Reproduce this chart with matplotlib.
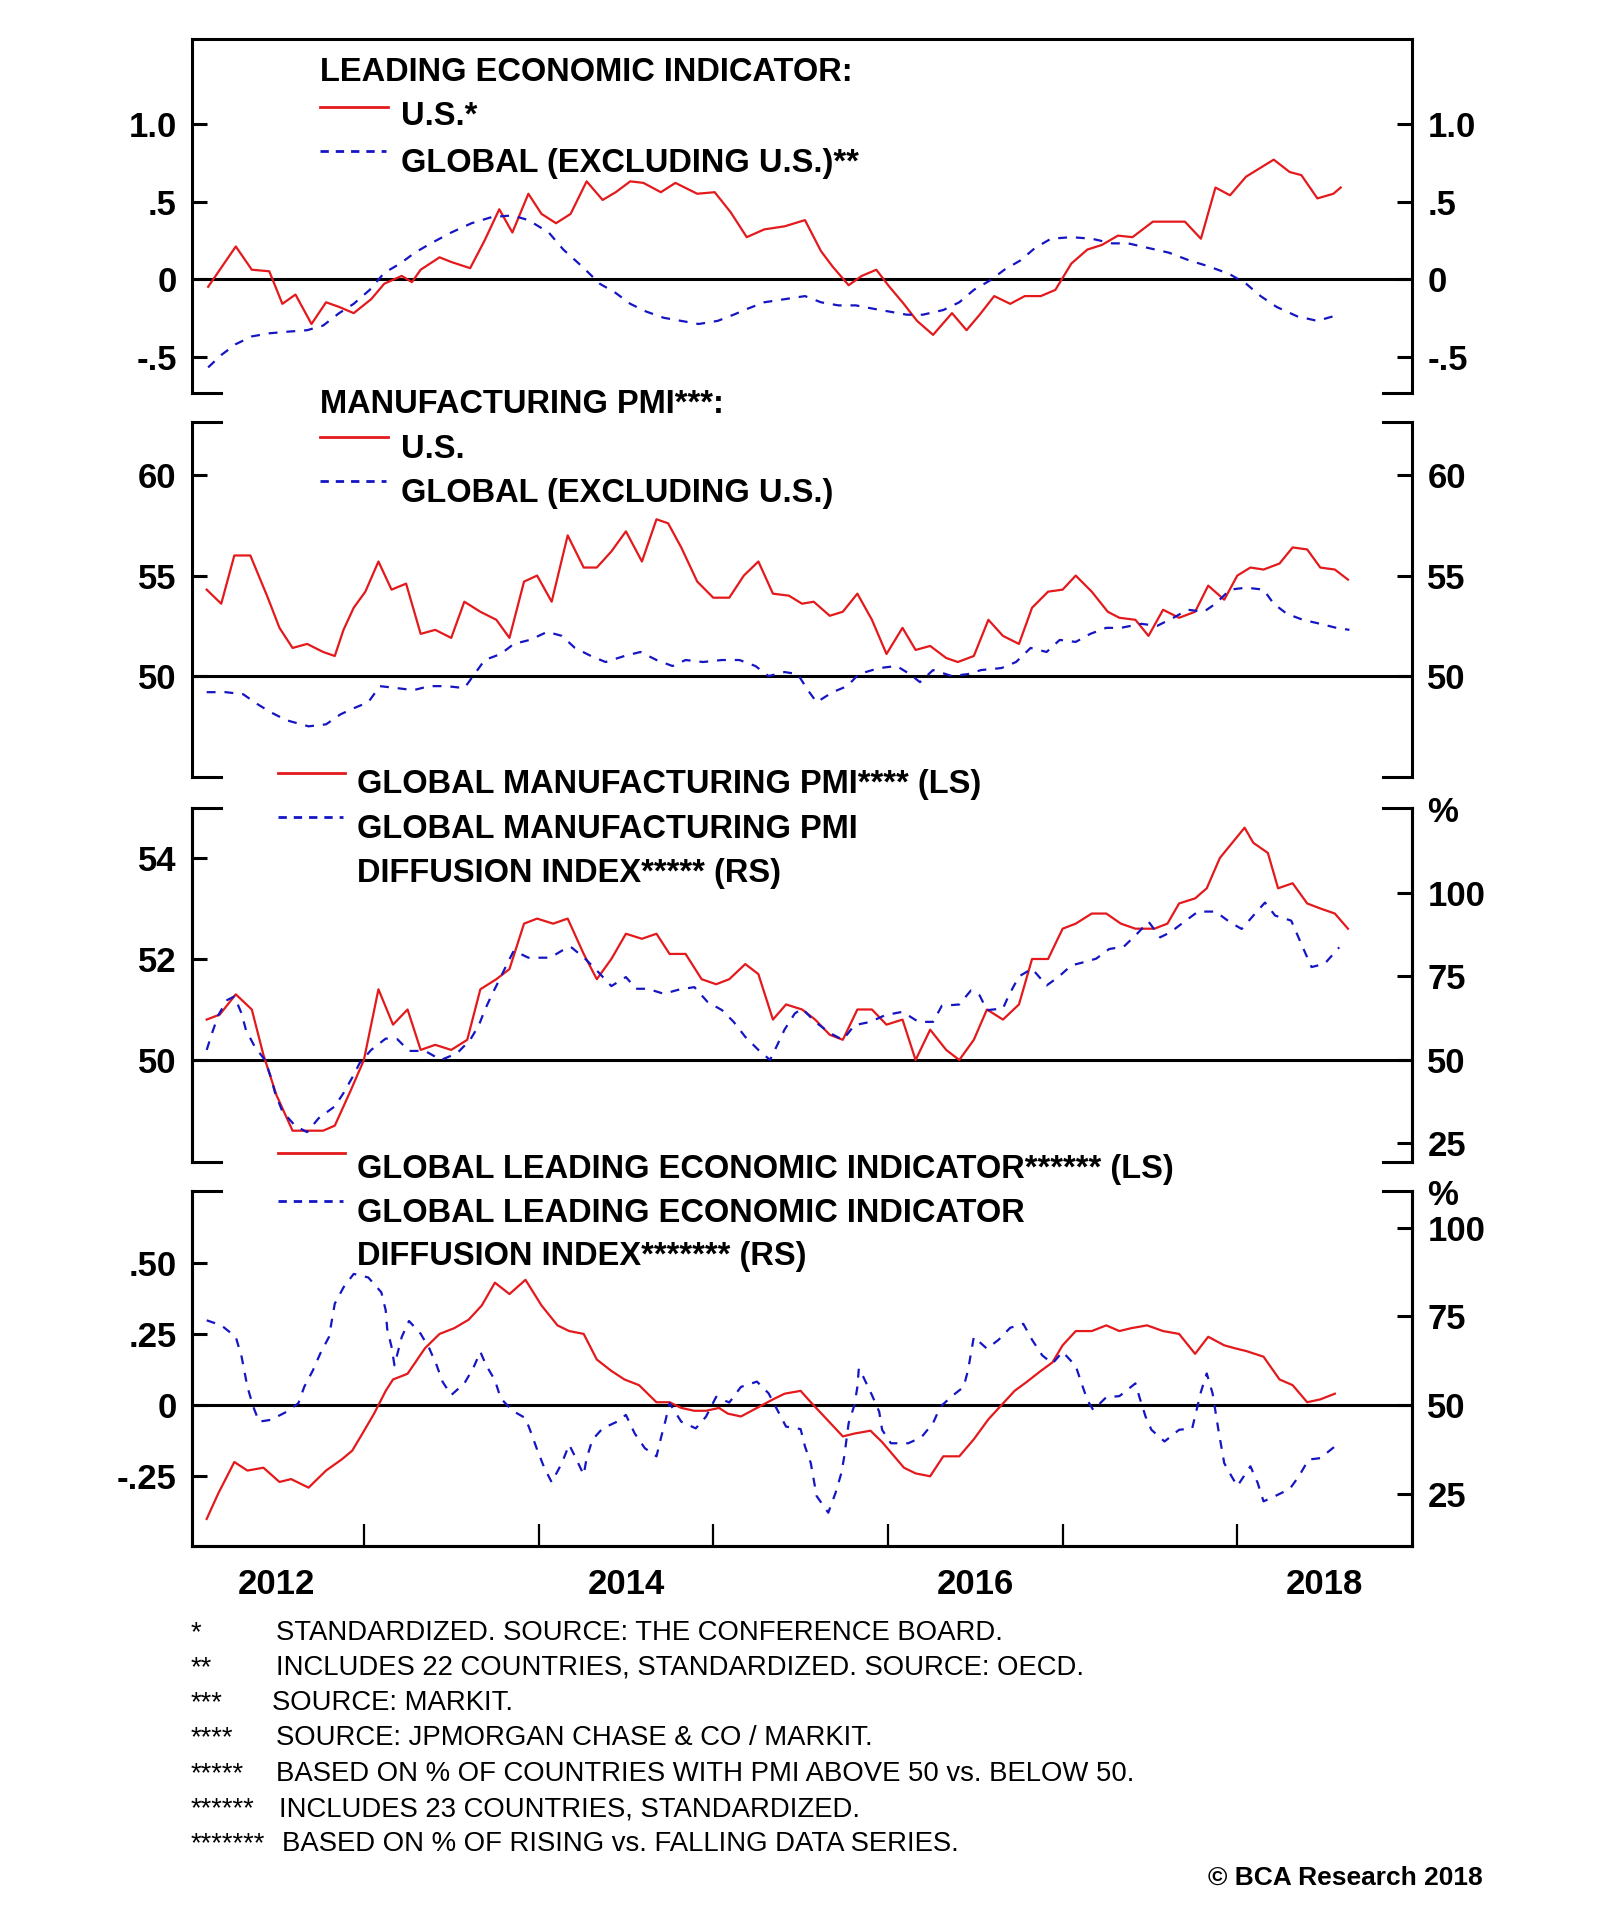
import numpy as np
import matplotlib
matplotlib.use("Agg")
import matplotlib.pyplot as plt
from matplotlib.lines import Line2D

plt.rcParams['font.family'] = ['Liberation Sans', 'DejaVu Sans']
plt.rcParams['font.weight'] = 'bold'

RED = '#e3191c'
BLUE = '#1515c4'
DASH = (0, (4, 4))

# (months after Jan 2012, value)
us_lei = [(1.3, -0.05), (3.2, 0.21), (4.3, 0.06), (5.5, 0.05), (6.4, -0.16), (7.3, -0.10), (8.4, -0.29),
          (9.4, -0.15), (10.3, -0.18), (11.3, -0.22), (12.5, -0.13), (13.4, -0.03), (14.6, 0.02), (15.3, -0.02),
          (15.9, 0.06), (17.2, 0.14), (18.0, 0.11), (19.3, 0.07), (20.3, 0.25), (21.3, 0.45), (22.2, 0.30),
          (23.3, 0.55), (24.2, 0.42), (25.2, 0.36), (26.2, 0.42), (27.3, 0.63), (28.4, 0.51), (29.3, 0.56),
          (30.3, 0.63), (31.2, 0.62), (32.4, 0.56), (33.4, 0.62), (34.9, 0.55), (36.1, 0.56), (37.2, 0.43),
          (38.3, 0.27), (39.5, 0.32), (40.9, 0.34), (42.3, 0.38), (43.4, 0.18), (44.2, 0.08), (45.3, -0.04),
          (46.2, 0.02), (47.2, 0.06), (48.1, -0.05), (49.0, -0.15), (50.0, -0.27), (51.1, -0.36), (52.4, -0.22),
          (53.4, -0.33), (54.3, -0.23), (55.3, -0.11), (56.4, -0.16), (57.4, -0.11), (58.5, -0.11), (59.5, -0.07),
          (60.6, 0.10), (61.7, 0.19), (62.7, 0.22), (63.8, 0.28), (64.8, 0.27), (66.2, 0.37), (68.4, 0.37),
          (69.5, 0.26), (70.5, 0.59), (71.5, 0.54), (72.6, 0.66), (74.5, 0.77), (75.6, 0.69), (76.4, 0.67),
          (77.5, 0.52), (78.6, 0.55), (79.1, 0.59)]

global_lei = [(1.3, -0.57), (2.2, -0.49), (3.2, -0.42), (4.3, -0.37), (5.5, -0.35), (6.7, -0.34), (8.1, -0.33),
              (9.2, -0.30), (10.3, -0.22), (11.3, -0.16), (12.4, -0.07), (13.4, 0.04), (14.5, 0.10), (15.5, 0.17),
              (16.6, 0.23), (18.0, 0.30), (19.4, 0.36), (20.8, 0.40), (22.2, 0.41), (23.3, 0.38), (24.7, 0.30),
              (25.7, 0.19), (27.0, 0.08), (28.2, -0.03), (29.3, -0.09), (30.3, -0.16), (31.4, -0.21), (32.6, -0.25),
              (33.8, -0.27), (35.0, -0.29), (36.3, -0.27), (37.4, -0.23), (38.4, -0.19), (39.5, -0.15), (40.9, -0.13),
              (42.3, -0.11), (43.4, -0.15), (44.6, -0.17), (45.8, -0.17), (46.9, -0.19), (48.1, -0.21), (49.3, -0.23),
              (50.4, -0.23), (51.8, -0.20), (52.9, -0.15), (53.9, -0.07), (55.0, -0.01), (56.0, 0.06), (57.1, 0.12),
              (58.1, 0.20), (59.2, 0.26), (60.6, 0.27), (62.0, 0.26), (63.4, 0.23), (64.5, 0.23), (65.9, 0.20),
              (67.3, 0.17), (68.7, 0.12), (70.1, 0.08), (71.5, 0.03), (72.6, -0.03), (73.6, -0.11), (74.7, -0.18),
              (76.1, -0.24), (77.5, -0.27), (78.6, -0.24)]

us_pmi = [(1.2, 54.3), (2.2, 53.6), (3.1, 56.0), (4.2, 56.0), (5.4, 53.9), (6.2, 52.4), (7.1, 51.4), (8.1, 51.6),
          (9.2, 51.2), (10.0, 51.0), (10.6, 52.3), (11.3, 53.4), (12.1, 54.2), (13.0, 55.7), (13.9, 54.3),
          (14.9, 54.6), (15.9, 52.1), (16.9, 52.3), (18.0, 51.9), (18.9, 53.7), (20.0, 53.2), (21.1, 52.8),
          (22.0, 51.9), (23.0, 54.7), (23.9, 55.0), (24.9, 53.7), (26.0, 57.0), (27.1, 55.4), (28.0, 55.4),
          (29.0, 56.2), (30.0, 57.2), (31.1, 55.7), (32.1, 57.8), (32.9, 57.6), (33.8, 56.4), (34.9, 54.7),
          (36.0, 53.9), (37.1, 53.9), (38.1, 55.0), (39.1, 55.7), (40.1, 54.1), (41.2, 54.0), (42.1, 53.6),
          (42.9, 53.7), (44.0, 53.0), (44.9, 53.2), (45.9, 54.1), (46.9, 52.8), (47.9, 51.1), (49.0, 52.4),
          (49.9, 51.3), (50.9, 51.5), (52.0, 50.9), (52.8, 50.7), (53.9, 51.0), (54.9, 52.8), (55.9, 52.0),
          (57.0, 51.6), (57.9, 53.4), (59.0, 54.2), (60.0, 54.3), (60.9, 55.0), (62.0, 54.2), (63.1, 53.2),
          (63.9, 52.9), (65.0, 52.8), (65.9, 52.0), (66.9, 53.3), (68.0, 52.9), (69.1, 53.2), (70.0, 54.5),
          (71.1, 53.8), (72.0, 55.0), (72.9, 55.4), (73.8, 55.3), (74.9, 55.6), (75.8, 56.4), (76.8, 56.3),
          (77.7, 55.4), (78.7, 55.3), (79.6, 54.8)]

global_pmi_exus = [(1.2, 49.2), (2.5, 49.2), (3.7, 49.1), (4.7, 48.6), (5.6, 48.2), (6.7, 47.8), (8.2, 47.5),
                   (9.4, 47.6), (10.4, 48.1), (11.3, 48.4), (12.3, 48.7), (13.1, 49.5), (14.3, 49.4), (15.4, 49.3),
                   (16.5, 49.5), (17.7, 49.5), (18.9, 49.4), (19.6, 50.1), (20.3, 50.8), (21.4, 51.1), (22.3, 51.6),
                   (23.4, 51.8), (24.6, 52.2), (25.6, 52.0), (26.5, 51.4), (27.6, 51.0), (28.6, 50.7), (29.9, 51.0),
                   (31.0, 51.2), (32.1, 50.8), (33.2, 50.5), (34.1, 50.8), (35.3, 50.7), (36.6, 50.8), (37.8, 50.8),
                   (38.9, 50.5), (39.8, 50.0), (40.9, 50.2), (41.8, 50.1), (42.5, 49.3), (43.1, 48.7), (44.2, 49.2),
                   (45.2, 49.5), (46.0, 50.1), (47.4, 50.4), (48.6, 50.5), (49.5, 50.1), (50.2, 49.7), (51.1, 50.3),
                   (52.4, 50.0), (53.5, 50.1), (54.4, 50.3), (55.8, 50.4), (56.8, 50.7), (57.8, 51.4), (58.9, 51.2),
                   (59.8, 51.8), (60.9, 51.7), (61.9, 52.1), (63.0, 52.4), (64.0, 52.4), (65.4, 52.6), (66.5, 52.5),
                   (67.6, 52.9), (68.6, 53.3), (69.7, 53.2), (70.5, 53.6), (71.5, 54.3), (72.6, 54.4), (73.8, 54.3),
                   (74.5, 53.6), (75.4, 53.1), (76.5, 52.8), (77.7, 52.6), (78.8, 52.4), (79.7, 52.3)]

global_pmi = [(1.2, 50.8), (2.1, 50.9), (3.2, 51.3), (4.3, 51.0), (5.1, 50.1), (6.0, 49.3), (7.1, 48.6), (9.2, 48.6),
              (10.0, 48.7), (11.1, 49.4), (12.0, 50.0), (13.0, 51.4), (14.0, 50.7), (15.0, 51.0), (15.9, 50.2),
              (16.9, 50.3), (18.0, 50.2), (19.1, 50.4), (20.0, 51.4), (21.1, 51.6), (22.0, 51.8), (23.0, 52.7),
              (23.9, 52.8), (25.0, 52.7), (26.0, 52.8), (27.1, 52.1), (28.0, 51.6), (29.0, 52.0), (30.0, 52.5),
              (31.1, 52.4), (32.1, 52.5), (33.0, 52.1), (34.1, 52.1), (35.2, 51.6), (36.2, 51.5), (37.1, 51.6),
              (38.2, 51.9), (39.1, 51.7), (40.1, 50.8), (41.0, 51.1), (42.1, 51.0), (43.0, 50.8), (44.0, 50.5),
              (44.9, 50.4), (45.9, 51.0), (46.9, 51.0), (47.9, 50.7), (49.0, 50.8), (49.9, 50.0), (50.9, 50.6),
              (52.0, 50.2), (52.9, 50.0), (53.9, 50.4), (54.8, 51.0), (55.9, 50.8), (57.0, 51.1), (57.9, 52.0),
              (59.0, 52.0), (60.0, 52.6), (60.9, 52.7), (62.0, 52.9), (63.0, 52.9), (64.0, 52.7), (65.0, 52.6),
              (66.3, 52.6), (67.2, 52.7), (68.0, 53.1), (69.1, 53.2), (69.9, 53.4), (70.8, 54.0), (72.5, 54.6),
              (73.1, 54.3), (74.1, 54.1), (74.8, 53.4), (75.8, 53.5), (76.8, 53.1), (77.7, 53.0), (78.7, 52.9),
              (79.6, 52.6)]

pmi_diffusion = [(1.2, 53.0), (1.6, 58.4), (2.0, 63.4), (2.6, 67.9), (3.1, 69.0), (3.6, 63.9), (3.9, 58.9),
                 (4.5, 54.0), (5.2, 50.0), (5.6, 45.0), (5.9, 40.1), (6.4, 34.6), (7.3, 30.2), (8.1, 28.4),
                 (8.9, 32.6), (10.0, 36.1), (10.6, 40.1), (11.3, 45.5), (11.7, 49.0), (12.5, 53.0), (13.5, 56.4),
                 (14.3, 56.2), (15.1, 52.7), (16.2, 52.7), (17.3, 50.0), (18.4, 52.0), (19.3, 56.0), (19.9, 60.4),
                 (20.3, 64.9), (20.8, 69.6), (21.4, 74.8), (21.9, 79.3), (22.3, 82.7), (23.3, 80.6), (24.8, 80.6),
                 (25.6, 82.7), (26.2, 83.9), (27.2, 80.3), (28.1, 76.3), (29.0, 72.1), (30.0, 74.8), (30.7, 71.3),
                 (31.5, 71.3), (32.6, 69.8), (33.6, 71.0), (34.7, 71.8), (35.6, 67.4), (36.6, 64.9), (37.4, 61.4),
                 (38.2, 56.9), (39.1, 53.0), (39.9, 50.0), (40.4, 54.5), (40.9, 59.1), (41.6, 63.9), (42.1, 65.4),
                 (43.0, 61.4), (44.0, 58.1), (44.9, 56.0), (45.7, 60.4), (46.8, 61.4), (47.8, 63.4), (49.0, 64.4),
                 (50.1, 61.4), (51.1, 61.4), (51.7, 66.2), (52.9, 66.6), (53.7, 70.8), (54.3, 69.3), (54.8, 64.9),
                 (55.9, 65.4), (56.3, 69.3), (57.0, 75.0), (57.9, 77.3), (58.9, 72.3), (59.7, 74.8), (60.6, 78.3),
                 (61.5, 79.3), (62.3, 80.3), (63.2, 83.2), (64.2, 83.9), (65.1, 87.7), (65.9, 91.4), (66.7, 86.7),
                 (67.4, 88.2), (68.4, 91.5), (69.3, 94.4), (70.5, 94.4), (71.5, 91.2), (72.3, 89.2), (73.1, 93.2),
                 (73.9, 97.1), (74.6, 93.2), (75.7, 91.7), (76.2, 86.7), (76.7, 81.7), (77.1, 77.8), (78.0, 78.8),
                 (79.0, 83.7)]

global_lei_23 = [(1.2, -0.40), (2.0, -0.31), (3.1, -0.20), (4.0, -0.23), (5.1, -0.22), (6.2, -0.27), (7.0, -0.26),
                 (8.2, -0.29), (9.4, -0.23), (10.5, -0.19), (11.2, -0.16), (11.9, -0.10), (12.7, -0.03), (13.5, 0.05),
                 (14.0, 0.09), (15.0, 0.11), (16.2, 0.20), (17.2, 0.25), (18.2, 0.27), (19.2, 0.30), (20.1, 0.35),
                 (21.0, 0.43), (22.0, 0.39), (23.1, 0.44), (24.2, 0.35), (25.3, 0.28), (26.1, 0.26), (27.1, 0.25),
                 (28.0, 0.16), (29.0, 0.12), (29.9, 0.09), (30.9, 0.07), (32.1, 0.01), (33.0, 0.01), (33.8, -0.01),
                 (34.7, -0.02), (35.5, -0.02), (36.4, -0.01), (37.0, -0.03), (37.9, -0.04), (39.0, -0.01), (40.1, 0.02),
                 (40.9, 0.04), (42.0, 0.05), (42.7, 0.01), (43.8, -0.05), (44.9, -0.11), (45.7, -0.10), (46.8, -0.09),
                 (47.6, -0.13), (48.6, -0.19), (49.1, -0.22), (49.9, -0.24), (50.9, -0.25), (51.8, -0.18),
                 (52.9, -0.18), (53.9, -0.12), (54.9, -0.05), (55.8, 0.00), (56.7, 0.05), (57.5, 0.08), (58.5, 0.12),
                 (59.3, 0.15), (60.0, 0.21), (60.9, 0.26), (62.0, 0.26), (63.0, 0.28), (63.9, 0.26), (64.7, 0.27),
                 (65.8, 0.28), (66.9, 0.26), (68.0, 0.25), (69.1, 0.18), (70.0, 0.24), (71.1, 0.21), (71.8, 0.20),
                 (72.6, 0.19), (73.8, 0.17), (74.9, 0.09), (75.8, 0.07), (76.8, 0.01), (77.7, 0.02), (78.7, 0.04)]

lei_diffusion = [(1.2, 73.9), (2.2, 72.5), (3.2, 69.2), (3.6, 63.6), (4.0, 55.1), (4.4, 49.5), (4.8, 45.3),
                 (5.6, 45.8), (6.7, 48.1), (7.5, 50.5), (7.9, 55.1), (8.5, 59.8), (9.0, 64.5), (9.6, 69.2),
                 (10.0, 78.6), (10.6, 83.2), (11.3, 87.0), (12.3, 86.0), (13.2, 81.8), (13.5, 76.7), (13.6, 71.5),
                 (13.9, 66.4), (14.1, 61.2), (14.6, 69.2), (15.1, 73.7), (15.9, 70.1), (16.5, 65.9), (17.0, 61.2),
                 (17.4, 56.6), (18.0, 52.8), (18.9, 56.1), (19.5, 60.3), (20.0, 65.0), (20.4, 61.2), (21.0, 57.0),
                 (21.4, 51.9), (22.2, 48.4), (23.1, 46.3), (23.5, 42.0), (23.9, 37.4), (24.4, 32.2), (24.9, 28.2),
                 (25.6, 33.6), (26.1, 38.8), (26.5, 35.5), (27.1, 30.3), (27.3, 35.0), (27.7, 40.2), (28.4, 43.4),
                 (29.4, 45.3), (30.0, 47.2), (30.6, 42.0), (31.3, 37.8), (32.1, 35.5), (32.4, 40.6), (32.7, 45.3),
                 (33.0, 50.5), (33.8, 45.3), (34.8, 43.4), (35.5, 46.7), (36.2, 52.3), (37.1, 50.7), (37.9, 55.1),
                 (39.0, 56.6), (39.8, 53.3), (40.4, 48.6), (41.0, 43.9), (42.0, 43.2), (42.3, 38.3), (42.7, 33.6),
                 (43.1, 24.3), (43.9, 19.6), (44.4, 25.2), (44.8, 30.8), (45.0, 35.5), (45.3, 44.9), (45.7, 50.0),
                 (45.9, 55.1), (46.0, 60.3), (46.3, 58.0), (46.9, 52.8), (47.4, 48.1), (47.6, 43.0), (48.2, 39.2),
                 (49.4, 39.2), (50.3, 40.9), (51.1, 44.9), (51.6, 49.5), (52.4, 52.5), (53.2, 55.1), (53.5, 59.8),
                 (53.9, 69.2), (54.8, 65.9), (55.6, 68.4), (56.4, 71.8), (57.3, 72.9), (57.9, 68.4), (58.6, 64.0),
                 (59.3, 61.7), (60.0, 65.0), (60.9, 61.0), (61.3, 56.1), (61.7, 51.4), (62.1, 48.6), (63.0, 52.2),
                 (63.9, 52.5), (65.0, 56.1), (65.3, 51.9), (65.7, 46.7), (66.1, 43.0), (67.0, 39.7), (68.0, 43.0),
                 (68.9, 43.4), (69.2, 48.6), (69.5, 53.7), (69.9, 58.9), (70.3, 53.3), (70.5, 48.1), (70.7, 43.0),
                 (70.9, 38.3), (71.1, 33.6), (71.6, 29.9), (72.0, 27.1), (72.9, 32.7), (73.4, 28.0), (73.8, 22.8),
                 (74.5, 24.1), (75.6, 26.3), (76.2, 29.7), (76.9, 34.6), (77.7, 35.0), (78.7, 38.3)]

year_ticks = [2013, 2014, 2015, 2016, 2017, 2018]
year_label_pos = [2012.5, 2014.5, 2016.5, 2018.5]
year_labels = ['2012', '2014', '2016', '2018']

footnotes = [
    ('*', 'STANDARDIZED. SOURCE: THE CONFERENCE BOARD.'),
    ('**', 'INCLUDES 22 COUNTRIES, STANDARDIZED. SOURCE: OECD.'),
    ('***', 'SOURCE: MARKIT.'),
    ('****', 'SOURCE: JPMORGAN CHASE & CO / MARKIT.'),
    ('*****', 'BASED ON % OF COUNTRIES WITH PMI ABOVE 50 vs. BELOW 50.'),
    ('******', 'INCLUDES 23 COUNTRIES, STANDARDIZED.'),
    ('*******', 'BASED ON % OF RISING vs. FALLING DATA SERIES.'),
]


def series(pairs):
    m, v = np.array(pairs).T
    return 2012 + m / 12.0, v


W, H = 1600, 1907
fig = plt.figure(figsize=(W / 100, H / 100), dpi=100)
X0, X1 = 192, 1412
XLIM = (2012.016, 2019.0)
LW = 2.2
HEAD = 23.5


def style_frame(ax, full_top, full_bottom, draw_stubs=True):
    ax.spines['top'].set_visible(full_top)
    ax.spines['bottom'].set_visible(full_bottom)
    for s in ax.spines.values():
        s.set_linewidth(LW)
    if not draw_stubs:
        return
    stub = 0.024
    for y, full in ((1, full_top), (0, full_bottom)):
        if not full:
            for xs in ([0, stub], [1 - stub, 1]):
                ax.plot(xs, [y, y], transform=ax.transAxes, color='black', lw=LW,
                        clip_on=False, solid_capstyle='projecting')


def panel(top, bottom, full_top=False, full_bottom=False):
    ax = fig.add_axes([X0 / W, 1 - bottom / H, (X1 - X0) / W, (bottom - top) / H])
    ax.set_xlim(*XLIM)
    ax.set_xticks([])
    style_frame(ax, full_top, full_bottom)
    return ax


def yaxis(ax, ticks, labels, lim):
    ax.set_ylim(*lim)
    ax.set_yticks(ticks)
    ax.set_yticklabels(labels)
    ax.tick_params(axis='y', direction='in', length=11, width=LW, labelsize=25, pad=11)


# panel 1: leading economic indicator
ax1 = panel(39, 393, full_top=True)
ax1.axhline(0, color='black', lw=LW, zorder=1.5)
ax1.plot(*series(us_lei), color=RED, lw=1.6)
ax1.plot(*series(global_lei), color=BLUE, lw=1.6, ls=DASH)
yaxis(ax1, [-0.5, 0, 0.5, 1.0], ['-.5', '0', '.5', '1.0'], (-0.735, 1.548))
ax1.tick_params(axis='y', left=True, right=True, labelleft=True, labelright=True)

# panel 2: manufacturing PMI
ax2 = panel(422, 777)
ax2.axhline(50, color='black', lw=LW, zorder=1.5)
ax2.plot(*series(us_pmi), color=RED, lw=1.6)
ax2.plot(*series(global_pmi_exus), color=BLUE, lw=1.6, ls=DASH)
yaxis(ax2, [50, 55, 60], ['50', '55', '60'], (44.98, 62.64))
ax2.tick_params(axis='y', left=True, right=True, labelleft=True, labelright=True)

# panel 3: global PMI and diffusion index
ax3 = panel(808, 1162)
ax3.axhline(50, color='black', lw=LW, zorder=1.5)
ax3.plot(*series(global_pmi), color=RED, lw=1.6)
yaxis(ax3, [50, 52, 54], ['50', '52', '54'], (47.98, 54.99))
ax3.tick_params(axis='y', right=False)
ax3r = ax3.twinx()
style_frame(ax3r, False, False, draw_stubs=False)
ax3r.plot(*series(pmi_diffusion), color=BLUE, lw=1.6, ls=DASH)
yaxis(ax3r, [25, 50, 75, 100], ['25', '50', '75', '100'], (19.46, 125.4))
ax3r.tick_params(axis='y', left=False, labelleft=False, right=True, labelright=True)

# panel 4: global LEI and diffusion index
ax4 = panel(1191, 1546, full_bottom=True)
ax4.axhline(0, color='black', lw=LW, zorder=1.5)
ax4.plot(*series(global_lei_23), color=RED, lw=1.6)
yaxis(ax4, [-0.25, 0, 0.25, 0.5], ['-.25', '0', '.25', '.50'], (-0.495, 0.752))
ax4.tick_params(axis='y', right=False)
ax4.set_xticks(year_ticks)
ax4.tick_params(axis='x', which='major', direction='in', length=16, width=1.6, labelbottom=False)
ax4.set_xticks(year_label_pos, minor=True)
ax4.set_xticklabels(year_labels, minor=True)
ax4.tick_params(axis='x', which='minor', length=0, labelsize=25, pad=16)
ax4r = ax4.twinx()
style_frame(ax4r, False, True, draw_stubs=False)
ax4r.plot(*series(lei_diffusion), color=BLUE, lw=1.6, ls=DASH)
yaxis(ax4r, [25, 50, 75, 100], ['25', '50', '75', '100'], (10.2, 110.4))
ax4r.tick_params(axis='y', left=False, labelleft=False, right=True, labelright=True)


def ftext(x, y, s, size=HEAD, weight='bold', ha='left'):
    fig.text(x / W, 1 - y / H, s, fontsize=size, fontweight=weight, ha=ha, va='baseline')


def key(x0, x1, y, color, ls='-'):
    fig.add_artist(Line2D([x0 / W, x1 / W], [1 - y / H, 1 - y / H], transform=fig.transFigure,
                          color=color, lw=2.0, ls=ls))


# legends
ftext(320, 81, 'LEADING ECONOMIC INDICATOR:')
key(320, 388, 107, RED)
ftext(401, 125, 'U.S.*')
key(320, 386, 151, BLUE, (0, (3, 2.5)))
ftext(401, 172, 'GLOBAL (EXCLUDING U.S.)**')

ftext(320, 413, 'MANUFACTURING PMI***:')
key(320, 388, 437, RED)
ftext(401, 458, 'U.S.')
key(320, 386, 481, BLUE, (0, (3, 2.5)))
ftext(401, 502, 'GLOBAL (EXCLUDING U.S.)')

key(278, 345, 773, RED)
ftext(357, 793, 'GLOBAL MANUFACTURING PMI**** (LS)')
key(278, 343, 817, BLUE, (0, (3, 2.5)))
ftext(357, 838, 'GLOBAL MANUFACTURING PMI')
ftext(357, 882, 'DIFFUSION INDEX***** (RS)')
ftext(1427, 822, '%', size=25)

key(278, 345, 1153, RED)
ftext(357, 1178, 'GLOBAL LEADING ECONOMIC INDICATOR****** (LS)')
key(278, 343, 1201, BLUE, (0, (3, 2.5)))
ftext(357, 1222, 'GLOBAL LEADING ECONOMIC INDICATOR')
ftext(357, 1265, 'DIFFUSION INDEX******* (RS)')
ftext(1427, 1205, '%', size=25)

# footnotes
note_base = [1640, 1675, 1710, 1745, 1781, 1816, 1851]
note_x = [276, 276, 272, 276, 276, 279, 282]
for (stars, text), yb, xt in zip(footnotes, note_base, note_x):
    ftext(191, yb, stars, size=19.8, weight='normal')
    ftext(xt, yb, text, size=19.8, weight='normal')

ftext(1483, 1885, '\u00a9 BCA Research 2018', size=19, ha='right')

fig.savefig('out.png', dpi=100)
